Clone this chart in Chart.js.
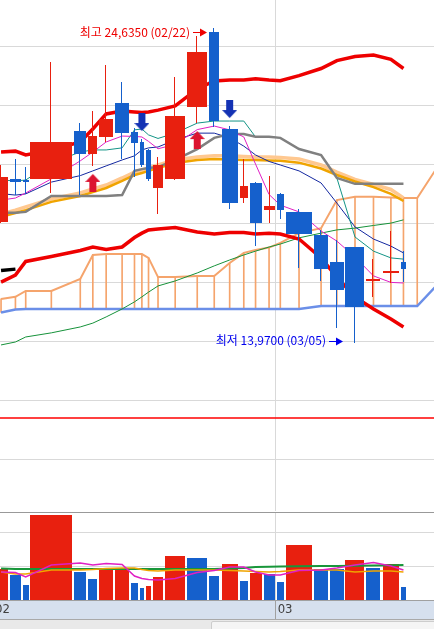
<!DOCTYPE html>
<html lang="ko">
<head>
<meta charset="utf-8">
<title>캔들볼륨 차트</title>
<script src="https://cdn.jsdelivr.net/npm/chart.js@4.4.1/dist/chart.umd.min.js"></script>
<style>
  html, body { margin: 0; padding: 0; background: #ffffff; }
  #wrap { position: relative; width: 434px; height: 629px; overflow: hidden; }
  #priceChart { position: absolute; left: 0; top: 0; }
  #volumeChart { position: absolute; left: 0; top: 512px; }
  #scrollBar { position: absolute; left: 0; top: 619px; width: 434px; height: 10px; background: #e9e9e9; border-top: 1px solid #a9a9a9; box-sizing: border-box; }
  #scrollThumb { position: absolute; left: 211px; top: 1px; width: 230px; height: 12px; background: #f5f5f5; border: 1px solid #cdcdcd; border-radius: 2px; }
</style>
</head>
<body>
<div id="wrap">
  <canvas id="priceChart" width="434" height="511"></canvas>
  <canvas id="volumeChart" width="434" height="107"></canvas>
  <div id="scrollBar"><div id="scrollThumb"></div></div>
</div>
<script>
// daily candles, candle width follows volume (candle-volume)
const dates = ['02/01', '02/02', '02/03', '02/04', '02/05', '02/08', '02/09', '02/10', '02/11', '02/12',
  '02/16', '02/17', '02/18', '02/19', '02/22', '02/23', '02/24', '02/25', '02/26', '03/01',
  '03/02', '03/03', '03/04', '03/05', '03/08', '03/09', '03/10'];
const openPrices = [18.07, 19.53, 19.49, 19.53, 21.15, 20.37, 20.95, 22.10, 21.12, 20.78,
  20.51, 19.22, 19.53, 21.97, 24.51, 21.22, 18.88, 19.39, 18.47, 19.02,
  18.41, 17.63, 16.71, 17.22, 16.08, 16.35, 16.71];
const highPrices = [20.00, 20.20, 19.93, 23.49, 21.42, 21.83, 23.39, 22.81, 21.25, 20.88,
  20.54, 20.27, 22.98, 24.37, 24.635, 21.32, 20.20, 19.42, 19.63, 19.05,
  18.51, 17.80, 17.46, 17.22, 16.81, 17.76, 17.08];
const lowPrices = [18.05, 18.98, 19.02, 19.05, 18.98, 19.97, 20.78, 20.20, 19.58, 19.93,
  19.46, 18.34, 19.49, 21.42, 21.29, 18.51, 18.71, 17.25, 18.03, 18.17,
  16.51, 16.07, 14.47, 13.97, 15.53, 16.00, 16.03];
const closePrices = [19.59, 19.42, 19.42, 20.78, 20.37, 20.98, 21.56, 21.08, 20.75, 20.00,
  19.53, 20.00, 21.66, 23.83, 21.49, 18.71, 19.29, 18.03, 18.61, 18.47,
  17.66, 16.47, 15.76, 15.19, 16.12, 16.42, 16.47];
// thousand shares
const volumes = [910, 740, 440, 2500, 820, 620, 910, 920, 500, 350,
  410, 680, 1290, 1240, 710, 1060, 560, 790, 760, 530,
  1620, 910, 900, 1180, 940, 1060, 380];

const bollingerUpper = [20.44, 20.47, 20.34, 20.51, 20.78, 21.22, 21.73, 21.83, 21.80, 21.78,
  21.80, 21.86, 22.00, 22.58, 22.85, 22.88, 22.88, 22.92, 22.88, 22.86,
  23.03, 23.27, 23.54, 23.68, 23.73, 23.58, 23.27];
const bollingerLower = [16.03, 16.27, 16.73, 16.90, 17.10, 17.22, 17.14, 17.22, 17.54, 17.69,
  17.80, 17.83, 17.88, 17.73, 17.66, 17.71, 17.71, 17.66, 17.69, 17.66,
  17.49, 16.85, 16.20, 15.53, 15.12, 14.78, 14.51];
const ma5 = [18.81, 18.88, 19.05, 19.53, 20.14, 20.44, 20.78, 20.98, 20.97, 20.95,
  20.80, 20.55, 20.70, 21.20, 21.32, 21.19, 20.95, 20.03, 19.00, 18.64,
  18.41, 17.76, 17.42, 16.88, 16.24, 16.02, 16.00];
const ma20 = [19.03, 18.98, 19.02, 19.42, 19.64, 19.80, 19.97, 20.17, 20.31, 20.51,
  20.58, 20.61, 20.85, 21.08, 21.08, 20.92, 20.64, 20.34, 20.12, 20.00,
  19.80, 19.39, 18.71, 17.90, 17.49, 17.25, 17.02];
const ma60 = [18.24, 18.37, 18.47, 18.75, 18.95, 19.08, 19.22, 19.46, 19.66, 19.73,
  19.80, 19.90, 20.07, 20.17, 20.20, 20.19, 20.17, 20.17, 20.15, 20.14,
  20.08, 19.88, 19.66, 19.44, 19.25, 19.02, 18.78];
const ma120 = [18.34, 18.47, 18.58, 18.85, 19.05, 19.19, 19.32, 19.56, 19.76, 19.83,
  19.90, 20.00, 20.17, 20.27, 20.31, 20.31, 20.29, 20.27, 20.27, 20.25,
  20.20, 20.00, 19.76, 19.51, 19.34, 19.17, 18.88];
const ma240 = [13.90, 14.00, 14.17, 14.31, 14.51, 14.64, 14.85, 15.12, 15.36, 15.53,
  15.69, 15.90, 16.07, 16.34, 16.58, 16.78, 16.95, 17.08, 17.22, 17.32,
  17.53, 17.69, 17.80, 17.86, 17.95, 18.03, 18.14];
// ichimoku
const conversionLine = [19.49, 19.46, 19.49, 20.07, 20.44, 20.51, 20.51, 20.58, 21.19, 21.22,
  21.02, 20.90, 21.08, 21.42, 21.49, 21.49, 21.49, 20.95, 20.95, 20.92,
  20.54, 20.34, 19.56, 17.56, 17.08, 16.85, 16.81];
const baseLine = [18.38, 18.38, 18.41, 18.95, 18.95, 18.95, 18.95, 18.98, 19.80, 19.86,
  19.90, 19.93, 20.17, 20.54, 20.92, 21.05, 21.05, 20.96, 20.96, 20.92,
  20.54, 20.34, 19.56, 19.36, 19.36, 19.36, 19.36];
// two extra values run past the last candle
const leadingSpan1 = [15.46, 15.53, 15.73, 15.73, 16.14, 16.95, 16.98, 16.98, 16.98, 16.98,
  16.85, 16.20, 16.20, 16.24, 16.24, 16.68, 17.02, 17.12, 17.20, 17.36,
  17.69, 17.86, 18.81, 18.92, 18.92, 18.90, 18.88, 18.88, 19.97];
const leadingSpan2 = [15.00, 15.10, 15.12, 15.12, 15.12, 15.12, 15.12, 15.12, 15.12, 15.12,
  15.12, 15.12, 15.12, 15.12, 15.12, 15.12, 15.12, 15.12, 15.12, 15.12,
  15.12, 15.22, 15.22, 15.22, 15.22, 15.22, 15.22, 15.22, 15.97];
const laggingShift = 25;

const volumeMa5 = [823, 809, 676, 1029, 1088, 1029, 1073, 1044, 706, 632,
  603, 588, 632, 809, 867, 970, 970, 823, 735, 735,
  867, 882, 941, 1029, 1103, 1000, 882];
const volumeMa20 = [823, 764, 764, 882, 882, 897, 926, 941, 941, 897,
  867, 853, 882, 882, 882, 867, 853, 838, 823, 838,
  882, 882, 882, 823, 853, 853, 823];
const volumeMa60 = [925, 910, 910, 910, 910, 910, 910, 910, 910, 910,
  910, 910, 910, 910, 910, 925, 940, 970, 980, 985,
  990, 1000, 1000, 1010, 1015, 1020, 1030];

const buySignals = ['02/08', '02/19'];
const sellSignals = ['02/12', '02/23'];
const alertPrice = 11.42;

const priceTicks = [10, 12, 14, 16, 18, 20, 22, 24];
const volumeTicks = [1000, 2000];

// view window
const viewStart = 395;
const viewEnd = 25292;
const priceMin = 8.271;
const priceMax = 25.593;
const volumeMax = 2590;
const futureSlotVolume = 1200;

const RED = '#e8200f';
const BLUE = '#1560cc';

const slotStart = [];
let totalVolume = 0;
volumes.forEach(v => { slotStart.push(totalVolume); totalVolume += v; });
const slotCenter = volumes.map((v, i) => slotStart[i] + v / 2);
const futureCount = leadingSpan1.length - dates.length;
const spanX = slotCenter.concat(Array.from({ length: futureCount }, (_, k) => totalVolume + futureSlotVolume * (k + 0.5)));

const monthTicks = [];
dates.forEach((d, i) => {
  const m = d.slice(0, 2);
  if (i === 0 || m !== dates[i - 1].slice(0, 2)) monthTicks.push({ value: slotStart[i], label: m });
});

const pts = (arr, xs = slotCenter) => arr.map((y, i) => ({ x: xs[i], y }));
const candleColor = i => (closePrices[i] >= openPrices[i] ? RED : BLUE);
const volumeColor = i => (i === 0 || volumes[i] >= volumes[i - 1] ? RED : BLUE);

function lineSet(label, data, color, width, order) {
  return { type: 'line', label, data, borderColor: color, borderWidth: width, pointRadius: 0, pointHoverRadius: 0, tension: 0, fill: false, order };
}

function bodyBox(x, i) {
  const left = x.getPixelForValue(slotStart[i]);
  const right = x.getPixelForValue(slotStart[i] + volumes[i]);
  const w = Math.max(1, Math.round(right - left - 2));
  const l = Math.round((left + right) / 2 - w / 2);
  return { l, w, wick: l + Math.floor((w - 1) / 2) };
}

function arrowImage(color, up) {
  const c = document.createElement('canvas');
  const w = 15, gap = 8, len = 18, head = 8, shaft = 3.5;
  c.width = w;
  c.height = 2 * (gap + len);
  const g = c.getContext('2d');
  g.fillStyle = color;
  if (!up) { g.translate(0, c.height); g.scale(1, -1); }
  const top = gap + len + gap;
  g.beginPath();
  g.moveTo(w / 2, top);
  g.lineTo(w, top + head);
  g.lineTo(w / 2 + shaft, top + head);
  g.lineTo(w / 2 + shaft, top + len);
  g.lineTo(w / 2 - shaft, top + len);
  g.lineTo(w / 2 - shaft, top + head);
  g.lineTo(0, top + head);
  g.closePath();
  g.fill();
  return c;
}

const candles = {
  id: 'candles',
  afterDatasetsDraw(chart) {
    const { ctx, scales: { x, y } } = chart;
    ctx.save();
    volumes.forEach((v, i) => {
      const b = bodyBox(x, i);
      ctx.fillStyle = candleColor(i);
      const hi = Math.round(y.getPixelForValue(highPrices[i]));
      const lo = Math.round(y.getPixelForValue(lowPrices[i]));
      ctx.fillRect(b.wick, hi, 1, Math.max(1, lo - hi));
      const top = Math.round(y.getPixelForValue(Math.max(openPrices[i], closePrices[i])));
      const bottom = Math.round(y.getPixelForValue(Math.min(openPrices[i], closePrices[i])));
      ctx.fillRect(b.l, top, b.w, Math.max(2, bottom - top));
    });
    ctx.restore();
  }
};

function drawMark(ctx, tipX, yy, text, color) {
  ctx.save();
  ctx.fillStyle = color;
  ctx.strokeStyle = color;
  ctx.lineWidth = 1;
  ctx.font = '12px "Noto Sans CJK KR", sans-serif';
  ctx.textAlign = 'right';
  ctx.textBaseline = 'middle';
  ctx.fillText(text, tipX - 17, yy);
  const ly = Math.round(yy) + 0.5;
  ctx.beginPath();
  ctx.moveTo(tipX - 14, ly);
  ctx.lineTo(tipX - 5, ly);
  ctx.stroke();
  ctx.beginPath();
  ctx.moveTo(tipX, ly);
  ctx.lineTo(tipX - 7, ly - 4);
  ctx.lineTo(tipX - 7, ly + 4);
  ctx.closePath();
  ctx.fill();
  ctx.restore();
}

const fmtPrice = v => v.toFixed(4).replace('.', ',');

const extremes = {
  id: 'extremes',
  afterDraw(chart) {
    const { ctx, scales: { x, y } } = chart;
    const hi = highPrices.indexOf(Math.max(...highPrices));
    const lo = lowPrices.indexOf(Math.min(...lowPrices));
    drawMark(ctx, bodyBox(x, hi).l - 2, y.getPixelForValue(highPrices[hi]) + 4,
      '최고 ' + fmtPrice(highPrices[hi]) + ' (' + dates[hi] + ')', '#ee0000');
    drawMark(ctx, bodyBox(x, lo).l - 2, y.getPixelForValue(lowPrices[lo]) - 2,
      '최저 ' + fmtPrice(lowPrices[lo]) + ' (' + dates[lo] + ')', '#0000ee');
  }
};

const volumeBars = {
  id: 'volumeBars',
  beforeDatasetsDraw(chart) {
    const { ctx, scales: { x, y } } = chart;
    const base = Math.round(y.getPixelForValue(0));
    ctx.save();
    volumes.forEach((v, i) => {
      const b = bodyBox(x, i);
      const top = Math.round(y.getPixelForValue(v));
      ctx.fillStyle = volumeColor(i);
      ctx.fillRect(b.l, top, b.w, base - top);
    });
    ctx.restore();
  }
};

const laggingSpan = closePrices.slice(laggingShift).map((c, i) => ({ x: slotCenter[i], y: c }));
const upArrow = arrowImage('#dc1430', true);
const downArrow = arrowImage('#1432b4', false);

const commonOptions = {
  responsive: false,
  animation: false,
  events: [],
  layout: { padding: 0, autoPadding: false },
  plugins: { legend: { display: false }, tooltip: { enabled: false } }
};

new Chart(document.getElementById('priceChart'), {
  type: 'line',
  data: {
    datasets: [
      { type: 'bar', label: 'cloud', data: spanX.map((x, i) => ({ x, y: [leadingSpan2[i], leadingSpan1[i]] })),
        backgroundColor: '#f5a46c', barThickness: 1, grouped: false, order: 20 },
      lineSet('leadingSpan1', pts(leadingSpan1, spanX), '#f5a46c', 2, 19),
      lineSet('leadingSpan2', pts(leadingSpan2, spanX), '#6b8fe8', 2.5, 18),
      lineSet('alert', [{ x: viewStart, y: alertPrice }, { x: viewEnd, y: alertPrice }], '#ff0000', 1.5, 17),
      lineSet('ma240', pts(ma240), '#16923a', 1, 16),
      lineSet('ma120', pts(ma120), '#ffc890', 3.5, 15),
      lineSet('ma60', pts(ma60), '#f0a400', 2.5, 14),
      lineSet('ma20', pts(ma20), '#1428a0', 1, 12),
      lineSet('conversion', pts(conversionLine), '#139486', 1, 11),
      lineSet('base', pts(baseLine), '#808080', 2.5, 10),
      lineSet('ma5', pts(ma5), '#e01fc4', 1, 9),
      lineSet('bbLower', pts(bollingerLower), '#ee0000', 3.5, 5),
      lineSet('bbUpper', pts(bollingerUpper), '#ee0000', 3.5, 5),
      lineSet('lagging', laggingSpan, '#000000', 3.5, 4),
      { type: 'line', label: 'buy', showLine: false, pointStyle: upArrow, pointRadius: 5, order: 0,
        data: buySignals.map(d => { const i = dates.indexOf(d); return { x: slotCenter[i], y: lowPrices[i] }; }) },
      { type: 'line', label: 'sell', showLine: false, pointStyle: downArrow, pointRadius: 5, order: 0,
        data: sellSignals.map(d => { const i = dates.indexOf(d); return { x: slotCenter[i], y: highPrices[i] }; }) }
    ]
  },
  options: {
    ...commonOptions,
    scales: {
      x: {
        type: 'linear', min: viewStart, max: viewEnd, offset: false,
        afterBuildTicks: s => { s.ticks = monthTicks.map(t => ({ value: t.value })); },
        afterFit: s => { s.height = 0; },
        grid: { color: '#d9d9d9', drawTicks: false, offset: false },
        border: { display: false },
        ticks: { display: false }
      },
      y: {
        type: 'linear', position: 'right', min: priceMin, max: priceMax,
        afterBuildTicks: s => { s.ticks = priceTicks.map(v => ({ value: v })); },
        afterFit: s => { s.width = 0; },
        grid: { color: '#d9d9d9', drawTicks: false },
        border: { display: false },
        ticks: { display: false }
      }
    }
  },
  plugins: [candles, extremes]
});

new Chart(document.getElementById('volumeChart'), {
  type: 'line',
  data: {
    datasets: [
      lineSet('volumeMa60', pts(volumeMa60), '#18963a', 2, 3),
      lineSet('volumeMa20', pts(volumeMa20), '#f0a400', 1.5, 2),
      lineSet('volumeMa5', pts(volumeMa5), '#e01fc4', 1.5, 1)
    ]
  },
  options: {
    ...commonOptions,
    scales: {
      x: {
        type: 'linear', min: viewStart, max: viewEnd, offset: false,
        afterBuildTicks: s => { s.ticks = monthTicks.map(t => ({ value: t.value })); },
        afterFit: s => { s.height = 19; },
        backgroundColor: '#d6e0ee',
        grid: { color: '#d9d9d9', tickColor: '#a0a0a0', tickLength: 19, drawTicks: true, offset: false },
        border: { display: true, color: '#a0a0a0' },
        ticks: {
          align: 'start', labelOffset: 2, padding: -17, maxRotation: 0, autoSkip: false,
          color: '#404040', font: { family: "'Liberation Sans Narrow', 'DejaVu Sans Condensed', sans-serif", size: 13 },
          callback: v => (monthTicks.find(t => t.value === v) || {}).label
        }
      },
      y: {
        type: 'linear', position: 'right', min: 0, max: volumeMax,
        afterBuildTicks: s => { s.ticks = volumeTicks.concat([volumeMax]).map(v => ({ value: v })); },
        afterFit: s => { s.width = 0; },
        grid: { color: c => (c.tick && c.tick.value === volumeMax ? '#999999' : '#d9d9d9'), drawTicks: false },
        border: { display: false },
        ticks: { display: false }
      }
    }
  },
  plugins: [volumeBars]
});
</script>
</body>
</html>
